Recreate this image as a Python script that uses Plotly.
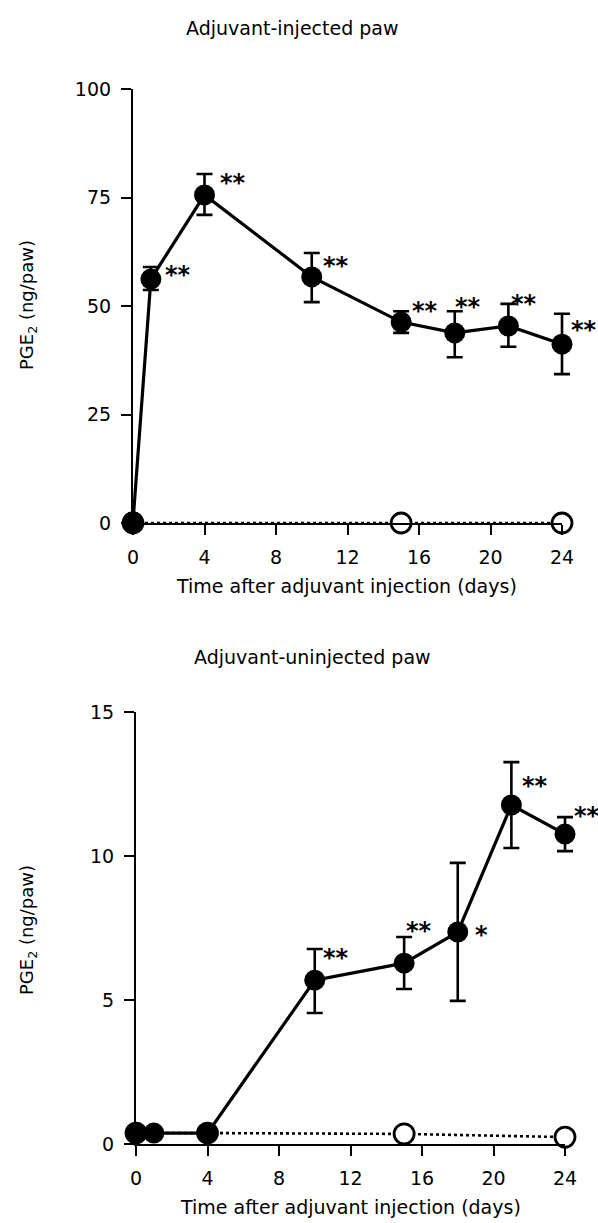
import plotly.graph_objects as go

# ---------------- data ----------------
days_top = [0, 1, 4, 10, 15, 18, 21, 24]
pge2_top = [0.3, 56.2, 75.6, 56.7, 46.3, 43.8, 45.4, 41.2]
err_up_top = [0, 2.8, 4.8, 5.5, 2.5, 5.0, 5.1, 7.0]
err_dn_top = [0, 2.5, 4.6, 5.8, 2.5, 5.6, 4.8, 6.9]
sig_top = ["", "**", "**", "**", "**", "**", "**", "**"]
ctrl_days_top = [0, 15, 24]
ctrl_top = [0.0, 0.0, 0.0]

days_bot = [0, 1, 4, 10, 15, 18, 21, 24]
pge2_bot = [0.38, 0.38, 0.38, 5.69, 6.28, 7.36, 11.77, 10.76]
err_up_bot = [0, 0, 0, 1.08, 0.91, 2.40, 1.49, 0.59]
err_dn_bot = [0, 0, 0, 1.14, 0.90, 2.39, 1.49, 0.59]
sig_bot = ["", "", "", "**", "**", "*", "**", "**"]
ctrl_days_bot = [0, 4, 15, 24]
ctrl_bot = [0.38, 0.38, 0.35, 0.24]

# label offsets (pixels) for significance marks
sig_dx_top = [0, 27, 28, 24, 24, 13, 16, 22]
sig_dy_top = [0, 8, 16, 15, 15, 30, 26, 18]
sig_dx_bot = [0, 0, 0, 21, 15, 24, 24, 22]
sig_dy_bot = [0, 0, 0, 26, 36, 1, 23, 22]

xticks = [0, 4, 8, 12, 16, 20, 24]
yticks_top = [0, 25, 50, 75, 100]
yticks_bot = [0, 5, 10, 15]
title_top = "Adjuvant-injected paw"
title_bot = "Adjuvant-uninjected paw"
xlab = "Time after adjuvant injection (days)"
ylab = "PGE<sub>2</sub> (ng/paw)"

FONT = "DejaVu Sans"
W, H = 598, 1223
XR = [0, 24]
PAD = 14  # px of extra clip room for error-bar caps

# panel pixel boxes: (left, right, top, bottom)
box_top = (133, 562, 89, 523)
box_bot = (136, 565, 712, 1144)

fig = go.Figure()

axis_common = dict(showline=True, linecolor="black", linewidth=2.2,
                   ticks="outside", ticklen=10, tickwidth=2.2, tickcolor="black",
                   showgrid=False, zeroline=False, automargin=False,
                   tickfont=dict(family=FONT, size=19, color="black"),
                   ticklabelstandoff=6)
hidden = dict(visible=False, showgrid=False, zeroline=False, automargin=False,
              fixedrange=True)

layout_axes = {}

def setup_axes(n, box, yr, yticks):
    l, r, t, b = box
    xs = "" if n == 1 else str(n)
    ys = "" if n == 1 else str(n)
    layout_axes["xaxis" + xs] = dict(domain=[l / W, r / W], range=XR,
                                     tickvals=xticks, anchor="y" + ys,
                                     **axis_common)
    layout_axes["yaxis" + ys] = dict(domain=[1 - b / H, 1 - t / H], range=yr,
                                     tickvals=yticks, anchor="x" + xs,
                                     **axis_common)
    # invisible twin subplot with identical scale but wider clip box
    k = (XR[1] - XR[0]) / (r - l)
    ky = (yr[1] - yr[0]) / (b - t)
    m = n + 2
    layout_axes["xaxis" + str(m)] = dict(
        domain=[(l - PAD) / W, (r + PAD) / W],
        range=[XR[0] - PAD * k, XR[1] + PAD * k], anchor="y" + str(m), **hidden)
    layout_axes["yaxis" + str(m)] = dict(
        domain=[1 - (b + PAD) / H, 1 - (t - PAD) / H],
        range=[yr[0] - PAD * ky, yr[1] + PAD * ky], anchor="x" + str(m), **hidden)

setup_axes(1, box_top, [0, 100], yticks_top)
setup_axes(2, box_bot, [0, 15], yticks_bot)

def add_panel(n, cx, cy, dx, dy, ex_up, ex_dn, sig, sdx, sdy):
    xa = "x" if n == 1 else "x%d" % n
    ya = "y" if n == 1 else "y%d" % n
    xe, ye = "x%d" % (n + 2), "y%d" % (n + 2)
    # error bars (on wide-clip twin axes)
    fig.add_trace(go.Scatter(
        x=dx, y=dy, xaxis=xe, yaxis=ye, mode="markers",
        marker=dict(size=1, color="rgba(0,0,0,0)"),
        error_y=dict(type="data", symmetric=False, array=ex_up,
                     arrayminus=ex_dn, color="black", thickness=2.6, width=8),
        showlegend=False, hoverinfo="skip"))
    # control (dotted, open circles)
    fig.add_trace(go.Scatter(
        x=cx, y=cy, xaxis=xa, yaxis=ya, mode="lines+markers",
        line=dict(color="black", width=2.6, dash="dot"),
        marker=dict(symbol="circle", size=20, color="white",
                    line=dict(color="black", width=2.8)),
        cliponaxis=False, showlegend=False))
    # adjuvant (solid, filled)
    fig.add_trace(go.Scatter(
        x=dx, y=dy, xaxis=xa, yaxis=ya, mode="lines+markers",
        line=dict(color="black", width=3.2),
        marker=dict(symbol="circle", size=21, color="black"),
        cliponaxis=False, showlegend=False))
    for xv, yv, s, ox, oy in zip(dx, dy, sig, sdx, sdy):
        if s:
            fig.add_annotation(x=xv, y=yv, xref=xa, yref=ya, text="<b>%s</b>" % s,
                               showarrow=False, xshift=ox, yshift=oy - 4,
                               font=dict(family=FONT, size=24, color="black"))

add_panel(1, ctrl_days_top, ctrl_top, days_top, pge2_top,
          err_up_top, err_dn_top, sig_top, sig_dx_top, sig_dy_top)
add_panel(2, ctrl_days_bot, ctrl_bot, days_bot, pge2_bot,
          err_up_bot, err_dn_bot, sig_bot, sig_dx_bot, sig_dy_bot)

fig.update_layout(
    width=W, height=H, margin=dict(l=0, r=0, t=0, b=0, autoexpand=False),
    paper_bgcolor="white", plot_bgcolor="rgba(0,0,0,0)", showlegend=False,
    **layout_axes)

def txt(x, y, s, size=18, angle=0):
    fig.add_annotation(x=x / W, y=1 - y / H, xref="paper", yref="paper",
                       text=s, showarrow=False, textangle=angle,
                       font=dict(family=FONT, size=size, color="black"),
                       xanchor="center", yanchor="middle")

txt(292, 28, title_top, 19)
txt(312, 657, title_bot, 19)
txt(347, 586, xlab, 19)
txt(350, 1207, xlab, 19)
txt(28, 305, ylab, 18, -90)
txt(28, 930, ylab, 18, -90)

fig.write_html(
    "out.html",
    config={"displayModeBar": False},
    post_script="document.body.style.margin='0';document.body.style.padding='0';"
                "document.documentElement.style.overflow='hidden';")
